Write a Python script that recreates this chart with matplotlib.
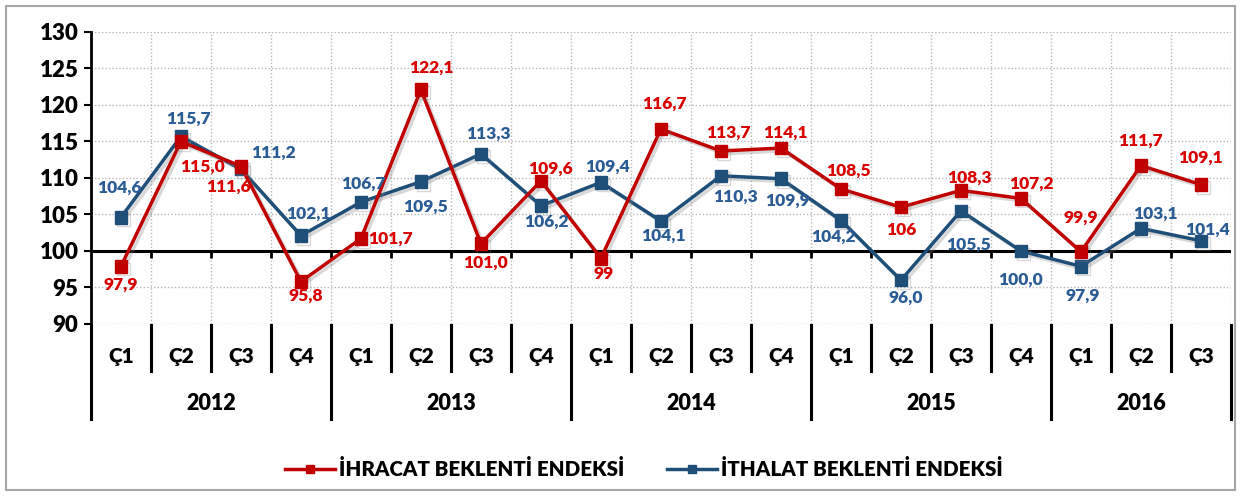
import numpy as np
import matplotlib.pyplot as plt
import matplotlib.patheffects as pe
from matplotlib.patches import Rectangle
from matplotlib.lines import Line2D

plt.rcParams['font.family'] = ['Lato', 'DejaVu Sans']
plt.rcParams['font.weight'] = 'heavy'

# ---- data ----
years = ["2012", "2013", "2014", "2015", "2016"]
quarters = ["Ç1", "Ç2", "Ç3", "Ç4"] * 4 + ["Ç1", "Ç2", "Ç3"]
ihracat = [97.9, 115.0, 111.6, 95.8, 101.7, 122.1, 101.0, 109.6, 99.0, 116.7,
           113.7, 114.1, 108.5, 106.0, 108.3, 107.2, 99.9, 111.7, 109.1]
ithalat = [104.6, 115.7, 111.2, 102.1, 106.7, 109.5, 113.3, 106.2, 109.4, 104.1,
           110.3, 109.9, 104.2, 96.0, 105.5, 100.0, 97.9, 103.1, 101.4]
ihracat_lbl = ["97,9", "115,0", "111,6", "95,8", "101,7", "122,1", "101,0", "109,6", "99",
               "116,7", "113,7", "114,1", "108,5", "106", "108,3", "107,2", "99,9", "111,7", "109,1"]
ithalat_lbl = ["104,6", "115,7", "111,2", "102,1", "106,7", "109,5", "113,3", "106,2", "109,4",
               "104,1", "110,3", "109,9", "104,2", "96,0", "105,5", "100,0", "97,9", "103,1", "101,4"]
year_quarters = [4, 4, 4, 4, 3]

# label offsets (pixels, x right / y up)
red_off = [(0, -18), (22, -25), (-12, -20), (5, -14), (30, 0), (10, 22), (5, -19), (10, 12),
           (3, -16), (3, 25), (7, 18), (5, 15), (8, 18), (0, -23), (8, 13), (10, 15),
           (0, 34), (0, 25), (0, 27)]
blu_off = [(-2, 30), (8, 18), (33, 17), (8, 22), (2, 18), (5, -25), (7, 20), (5, -16),
           (7, 16), (3, -15), (15, -21), (7, -22), (-8, -16), (5, -17), (8, -34), (0, -29),
           (2, -29), (15, 15), (7, 11)]

RED = "#C00000"
BLUE = "#1F4E79"
RED_T = "#D80000"
BLUE_T = "#2B5C96"

fig = plt.figure(figsize=(12.41, 4.96), dpi=100)
fig.patches.append(Rectangle((0.005, 0.012), 0.99, 0.976, transform=fig.transFigure,
                             fill=False, edgecolor="#A6A6A6", lw=1.5, zorder=0))
ax = fig.add_axes([0.0733, 0.3468, 0.9186, 0.5887])

x = np.arange(len(ihracat))
shadow = [pe.SimpleLineShadow(offset=(2, -2), alpha=0.3, shadow_color="gray"), pe.Normal()]
ax.plot(x, ihracat, color=RED, lw=2.5, marker="s", ms=9, zorder=4, path_effects=shadow)
ax.plot(x, ithalat, color=BLUE, lw=2.5, marker="s", ms=9, zorder=3, path_effects=shadow)

for i in range(len(x)):
    ax.annotate(ihracat_lbl[i], (x[i], ihracat[i]), xytext=red_off[i], textcoords="offset pixels",
                ha="center", va="center", color=RED_T, fontsize=12.5, fontweight="heavy", zorder=6)
    ax.annotate(ithalat_lbl[i], (x[i], ithalat[i]), xytext=blu_off[i], textcoords="offset pixels",
                ha="center", va="center", color=BLUE_T, fontsize=12.5, fontweight="heavy", zorder=6)

ax.set_xlim(-0.5, len(x) - 0.5)
ax.set_ylim(90, 130)
ax.set_yticks(np.arange(90, 131, 5))
ax.tick_params(axis="y", labelsize=16, length=5, width=1.5, direction="out", pad=4)
ax.set_xticks(np.arange(-0.5, len(x), 1.0))
ax.set_xticklabels([])
ax.tick_params(axis="x", length=0)
ax.grid(True, color="#B8B8B8", ls=(0, (1, 1.5)), lw=1)
ax.set_axisbelow(True)
for s in ["top", "right", "bottom"]:
    ax.spines[s].set_visible(False)
ax.spines["left"].set_linewidth(2)

# axis crossing at 100
ax.axhline(100, color="black", lw=2.2, zorder=2)
ax.vlines(np.arange(0.5, len(x) - 0.5, 1.0), 99.0, 100, color="black", lw=2, zorder=2)

# multi-level category axis below
tr = ax.get_xaxis_transform()
bounds = np.arange(-0.5, len(x), 1.0)
year_edges = np.concatenate([[-0.5], np.cumsum(year_quarters) - 0.5])
for b in bounds:
    if b in year_edges:
        ax.plot([b, b], [-0.005, -0.325], color="black", lw=2.2, transform=tr, clip_on=False)
    else:
        ax.plot([b, b], [-0.005, -0.161], color="black", lw=2.2, transform=tr, clip_on=False)
for i, q in enumerate(quarters):
    ax.text(x[i], -0.113, q, transform=tr, ha="center", va="center", fontsize=15, fontweight="heavy")
for k, yr in enumerate(years):
    mid = (year_edges[k] + year_edges[k + 1]) / 2
    ax.text(mid, -0.271, yr, transform=tr, ha="center", va="center", fontsize=15.5, fontweight="heavy")

handles = [Line2D([], [], color=RED, lw=2.5, marker="s", ms=6),
           Line2D([], [], color=BLUE, lw=2.5, marker="s", ms=6)]
fig.legend(handles, ["İHRACAT BEKLENTİ ENDEKSİ", "İTHALAT BEKLENTİ ENDEKSİ"], loc="center",
           bbox_to_anchor=(0.519, 0.055), ncol=2, frameon=False,
           handlelength=2.4, handletextpad=0.2, columnspacing=2.1, prop={"weight": "heavy", "size": 14.8})

fig.savefig("out.png", dpi=100)
